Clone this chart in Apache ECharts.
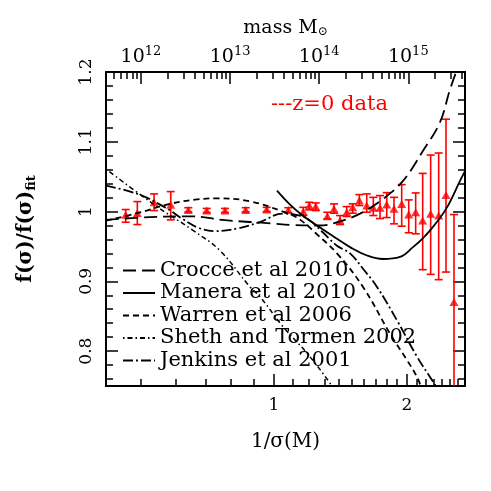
<!DOCTYPE html>
<html>
<head>
<meta charset="utf-8">
<script src="https://cdn.jsdelivr.net/npm/echarts@6/dist/echarts.min.js"></script>
<style>
  html, body { margin: 0; padding: 0; background: #fff; }
  #chart { width: 491px; height: 491px; }
</style>
</head>
<body>
<div id="chart"></div>
<script>
var FONT = "'DejaVu Serif', serif";

// 1/sigma axis ticks
var xMajor = [1, 2];
var xMinor = [0.5, 0.6, 0.7, 0.8, 0.9, 1.1, 1.2, 1.3, 1.4, 1.5, 1.6, 1.7, 1.8, 1.9, 2.1, 2.2, 2.3, 2.4, 2.5, 2.6, 2.7];
// mass axis ticks
var mMajor = [1e12, 1e13, 1e14, 1e15];
var mMinor = [4e11, 5e11, 6e11, 7e11, 8e11, 9e11,
  2e12, 3e12, 4e12, 5e12, 6e12, 7e12, 8e12, 9e12,
  2e13, 3e13, 4e13, 5e13, 6e13, 7e13, 8e13, 9e13,
  2e14, 3e14, 4e14, 5e14, 6e14, 7e14, 8e14, 9e14,
  2e15, 3e15, 4e15];
var yMajor = [0.8, 0.9, 1, 1.1, 1.2];
var yMinor = [0.76, 0.78, 0.82, 0.84, 0.86, 0.88, 0.92, 0.94, 0.96, 0.98,
  1.02, 1.04, 1.06, 1.08, 1.12, 1.14, 1.16, 1.18];

// fitting functions, ratio to fit
var crocce = [[0.4166, 0.988], [0.5239, 0.992], [0.6557, 0.993], [0.7627, 0.988], [0.8824, 0.985],
  [0.9896, 0.983], [1.087, 0.981], [1.271, 0.980], [1.4106, 0.986], [1.5656, 0.997], [1.7651, 1.018],
  [1.9589, 1.044], [2.1742, 1.087], [2.3753, 1.128], [2.5025, 1.175], [2.6363, 1.215]];
var manera = [[1.0158, 1.03], [1.087, 1.01], [1.1631, 0.994], [1.2513, 0.98], [1.3887, 0.961],
  [1.4861, 0.949], [1.6238, 0.937], [1.7651, 0.932], [1.9283, 0.935], [2.0636, 0.949], [2.1742, 0.962],
  [2.2904, 0.978], [2.4637, 1.006], [2.6363, 1.044], [2.7058, 1.058]];
var warren = [[0.4166, 0.987], [0.4922, 0.998], [0.5815, 1.011], [0.6625, 1.017], [0.7430, 1.019],
  [0.8824, 1.0147], [1.0481, 1.0], [1.1157, 0.993], [1.1754, 0.983], [1.2383, 0.97], [1.3887, 0.94],
  [1.5903, 0.892], [1.8306, 0.825], [2.0, 0.787], [2.1072, 0.763], [2.16, 0.745]];
var sheth = [[0.4166, 1.061], [0.5378, 1.009], [0.6557, 0.973], [0.7546, 0.944], [0.8824, 0.892],
  [0.9296, 0.878], [1.0481, 0.835], [1.1877, 0.797], [1.339, 0.754], [1.36, 0.745]];
var jenkins = [[0.4166, 1.037], [0.4922, 1.025], [0.5666, 1.006], [0.6190, 0.99], [0.6729, 0.977],
  [0.7355, 0.972], [0.829, 0.976], [0.9296, 0.985], [1.0481, 0.997], [1.145, 0.994], [1.2064, 0.987],
  [1.2911, 0.97], [1.3887, 0.951], [1.4861, 0.94], [1.5903, 0.918], [1.7106, 0.892], [1.8985, 0.844],
  [2.1072, 0.792], [2.2548, 0.763], [2.3508, 0.745]];

// z=0 simulation data
var dataX = [0.4616, 0.4905, 0.5352, 0.5838, 0.6398, 0.7042, 0.7747, 0.8629, 0.9627, 1.0775,
  1.165, 1.2019, 1.2428, 1.3205, 1.3671, 1.4106, 1.4608, 1.5071, 1.5601, 1.6215,
  1.678, 1.7377, 1.7995, 1.8691, 1.9455, 2.0181, 2.0926, 2.1704, 2.2627, 2.3592, 2.4508, 2.5552];
var dataY = [0.9953, 0.9981, 1.0133, 1.0096, 1.0024, 1.0014, 1.0014, 1.0024, 1.0029, 1.0021,
  1.0, 1.0086, 1.0071, 0.9933, 1.0039, 0.9871, 0.999, 1.0061, 1.0157, 1.0086,
  1.0053, 1.0053, 1.01, 1.0039, 1.011, 0.9957, 0.999, 0.9871, 0.9967, 0.9943, 1.0239, 0.8704];
var dataHi = [1.0029, 1.0143, 1.0253, 1.0286, 1.0055, 1.0045, 1.0045, 1.0055, 1.006, 1.0055,
  1.0061, 1.0133, 1.0124, 0.999, 1.011, 0.9943, 1.0071, 1.011, 1.0243, 1.0253,
  1.0204, 1.0229, 1.0271, 1.0204, 1.0386, 1.0167, 1.0267, 1.0547, 1.081, 1.0839, 1.1324, 0.9957];
var dataLo = [0.9847, 0.9814, 1.0014, 0.9881, 0.9995, 0.9985, 0.9985, 0.9995, 1.0, 0.9985,
  0.9943, 1.0024, 1.0014, 0.9896, 0.9976, 0.9814, 0.9929, 0.9976, 1.0086, 0.999,
  0.9943, 0.99, 0.9914, 0.9824, 0.979, 0.9696, 0.9681, 0.9167, 0.91, 0.9024, 0.9133, 0.70];

var X_MIN = 0.4166, X_MAX = 2.706;
var M_MIN = 4.05e11, M_MAX = 4.33e15;
var Y_MIN = 0.75, Y_MAX = 1.2;

var chart = echarts.init(document.getElementById('chart'));

function tickAxis(extra) {
  var base = {
    axisLine: { show: true, onZero: false, lineStyle: { color: '#000', width: 2 } },
    splitLine: { show: false },
    axisLabel: { show: false },
    axisTick: { show: true, inside: true, length: 7, lineStyle: { color: '#000', width: 1.5 } }
  };
  return Object.assign(base, extra);
}

function fitLine(name, data, dash, width) {
  return {
    name: name, type: 'line', data: data, smooth: 0.4, symbol: 'none',
    xAxisIndex: 0, yAxisIndex: 0,
    itemStyle: { color: '#000' },
    lineStyle: { color: '#000', width: width, type: dash }
  };
}

var points = dataX.map(function (x, i) { return [x, dataY[i]]; });
var bars = dataX.map(function (x, i) { return [x, dataY[i], dataLo[i], dataHi[i]]; });

var option = {
  animation: false,
  backgroundColor: '#fff',
  grid: { left: 106, right: 26, top: 72, bottom: 105, containLabel: false, outerBoundsMode: 'none' },
  title: {
    text: '---z=0 data',
    left: 266, top: 89,
    textStyle: { color: '#ff0000', fontFamily: FONT, fontSize: 21, fontWeight: 'normal' }
  },
  legend: {
    orient: 'vertical',
    left: 117, top: 255,
    itemWidth: 32, itemHeight: 12, itemGap: 1.5,
    selectedMode: false,
    itemStyle: { color: 'rgba(0,0,0,0)', borderWidth: 0, opacity: 0 },
    textStyle: { fontFamily: FONT, fontSize: 21, color: '#000', lineHeight: 21 },
    data: ['Crocce et al 2010', 'Manera et al 2010', 'Warren et al 2006', 'Sheth and Tormen 2002', 'Jenkins et al 2001']
  },
  xAxis: [
    tickAxis({
      type: 'log', logBase: 10, min: X_MIN, max: X_MAX, position: 'bottom',
      name: '1/σ(M)', nameLocation: 'middle', nameGap: 46,
      nameTextStyle: { fontFamily: FONT, fontSize: 20, color: '#000' },
      axisTick: { show: true, inside: true, length: 12, customValues: xMajor, lineStyle: { color: '#000', width: 1.5 } },
      axisLabel: { show: true, customValues: xMajor, margin: 11, fontFamily: FONT, fontSize: 17, color: '#000' }
    }),
    tickAxis({
      type: 'log', logBase: 10, min: X_MIN, max: X_MAX, position: 'bottom',
      axisTick: { show: true, inside: true, length: 7, customValues: xMinor, lineStyle: { color: '#000', width: 1.5 } }
    }),
    tickAxis({
      type: 'log', logBase: 10, min: M_MIN, max: M_MAX, position: 'top',
      name: 'mass M{sub|⊙}', nameLocation: 'middle', nameGap: 34,
      nameTextStyle: {
        fontFamily: FONT, fontSize: 19, color: '#000',
        rich: { sub: { fontFamily: FONT, fontSize: 12, verticalAlign: 'bottom', padding: [8, 0, 0, 0] } }
      },
      axisTick: { show: true, inside: true, length: 12, customValues: mMajor, lineStyle: { color: '#000', width: 1.5 } },
      axisLabel: {
        show: true, customValues: mMajor, margin: 5, color: '#000',
        formatter: function (v) { return '{b|10}{s|' + Math.round(Math.log10(v)) + '}'; },
        rich: {
          b: { fontFamily: FONT, fontSize: 19, lineHeight: 22, verticalAlign: 'bottom' },
          s: { fontFamily: FONT, fontSize: 13, lineHeight: 13, verticalAlign: 'top' }
        }
      }
    }),
    tickAxis({
      type: 'log', logBase: 10, min: M_MIN, max: M_MAX, position: 'top',
      axisTick: { show: true, inside: true, length: 7, customValues: mMinor, lineStyle: { color: '#000', width: 1.5 } }
    })
  ],
  yAxis: [
    tickAxis({
      type: 'value', min: Y_MIN, max: Y_MAX, position: 'left',
      name: '{m|f(σ)/f(σ)}{sub|fit}', nameLocation: 'middle', nameGap: 68, nameRotate: 90,
      nameTextStyle: {
        color: '#000',
        rich: {
          m: { fontFamily: FONT, fontSize: 20, fontWeight: 'bold', lineHeight: 24 },
          sub: { fontFamily: FONT, fontSize: 13, fontWeight: 'bold', verticalAlign: 'bottom', lineHeight: 13 }
        }
      },
      axisTick: { show: true, inside: true, length: 12, customValues: yMajor, lineStyle: { color: '#000', width: 1.5 } },
      axisLabel: {
        show: true, customValues: yMajor, rotate: 90, margin: 11, align: 'center', verticalAlign: 'bottom',
        fontFamily: FONT, fontSize: 17, color: '#000'
      }
    }),
    tickAxis({
      type: 'value', min: Y_MIN, max: Y_MAX, position: 'left',
      axisTick: { show: true, inside: true, length: 7, customValues: yMinor, lineStyle: { color: '#000', width: 1.5 } }
    }),
    tickAxis({
      type: 'value', min: Y_MIN, max: Y_MAX, position: 'right',
      axisTick: { show: true, inside: true, length: 12, customValues: yMajor, lineStyle: { color: '#000', width: 1.5 } }
    }),
    tickAxis({
      type: 'value', min: Y_MIN, max: Y_MAX, position: 'right',
      axisTick: { show: true, inside: true, length: 7, customValues: yMinor, lineStyle: { color: '#000', width: 1.5 } }
    })
  ],
  series: [
    fitLine('Crocce et al 2010', crocce, [13, 6], 1.8),
    fitLine('Manera et al 2010', manera, 'solid', 1.8),
    fitLine('Warren et al 2006', warren, [6, 4], 1.8),
    fitLine('Sheth and Tormen 2002', sheth, [1.5, 3, 5, 3], 1.5),
    fitLine('Jenkins et al 2001', jenkins, [10, 3, 2, 3], 1.8),
    {
      name: 'errors', type: 'custom', xAxisIndex: 0, yAxisIndex: 0, data: bars, clip: true,
      renderItem: function (params, api) {
        var x = api.value(0);
        var lo = Math.max(api.value(2), Y_MIN);
        var hi = api.value(3);
        var pHi = api.coord([x, hi]);
        var pLo = api.coord([x, lo]);
        var style = { stroke: '#ff0000', lineWidth: 1.6 };
        var kids = [
          { type: 'line', shape: { x1: pHi[0], y1: pHi[1], x2: pLo[0], y2: pLo[1] }, style: style },
          { type: 'line', shape: { x1: pHi[0] - 4, y1: pHi[1], x2: pHi[0] + 4, y2: pHi[1] }, style: style }
        ];
        if (api.value(2) >= Y_MIN) {
          kids.push({ type: 'line', shape: { x1: pLo[0] - 4, y1: pLo[1], x2: pLo[0] + 4, y2: pLo[1] }, style: style });
        }
        return { type: 'group', children: kids };
      }
    },
    {
      name: 'z=0 data', type: 'scatter', xAxisIndex: 0, yAxisIndex: 0, data: points,
      symbol: 'triangle', symbolSize: [9, 8],
      itemStyle: { color: '#ff0000' }
    }
  ]
};

chart.setOption(option);
</script>
</body>
</html>
